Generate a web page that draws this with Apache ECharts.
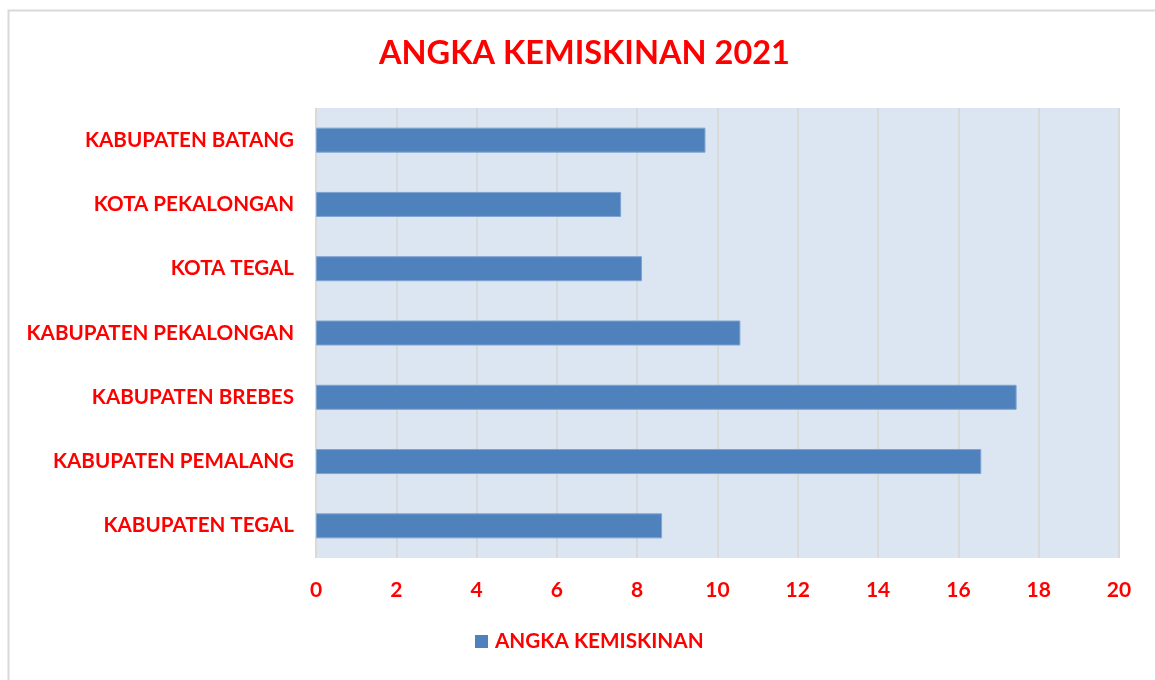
<!DOCTYPE html>
<html>
<head>
<meta charset="utf-8">
<script src="https://cdn.jsdelivr.net/npm/echarts@6/dist/echarts.min.js"></script>
<style>
  html, body { margin: 0; padding: 0; background: #fff; }
  #chart { width: 1155px; height: 680px; }
</style>
</head>
<body>
<div id="chart"></div>
<script>
// data
var daerah = ['KABUPATEN BATANG', 'KOTA PEKALONGAN', 'KOTA TEGAL', 'KABUPATEN PEKALONGAN',
  'KABUPATEN BREBES', 'KABUPATEN PEMALANG', 'KABUPATEN TEGAL'];
var angka = [9.70, 7.60, 8.12, 10.57, 17.45, 16.57, 8.62];
var namaSeri = 'ANGKA KEMISKINAN';

var merah = '#ff0000';
var font = 'Lato';

var myChart = echarts.init(document.getElementById('chart'));

var option = {
  backgroundColor: '#fff',
  animation: false,
  // frame of the chart box (right side is cut off in the original)
  graphic: [{
    type: 'rect',
    shape: { x: 8.5, y: 10.5, width: 1160, height: 680 },
    style: { fill: 'none', stroke: '#d9d9d9', lineWidth: 2 }
  }],
  title: {
    text: 'ANGKA KEMISKINAN 2021',
    left: 374,
    top: 32,
    textStyle: { color: merah, fontFamily: font, fontWeight: 'bold', fontSize: 32.5 }
  },
  legend: {
    data: [{ name: namaSeri, itemStyle: { borderWidth: 0 } }],
    bottom: 23,
    left: 470,
    itemWidth: 13,
    itemHeight: 13,
    icon: 'rect',
    itemGap: 8,
    textStyle: { color: merah, fontFamily: font, fontWeight: 'bold', fontSize: 20.7, padding: [0, 0, 0, 2] }
  },
  grid: {
    left: 316,
    right: 36,
    top: 108,
    bottom: 122,
    show: true,
    backgroundColor: '#dce6f2',
    borderWidth: 0
  },
  xAxis: {
    type: 'value',
    min: 0,
    max: 20,
    interval: 2,
    axisLine: { show: false },
    axisTick: { show: false },
    splitLine: { lineStyle: { color: '#d9d9d9', width: 2 } },
    axisLabel: { color: merah, fontFamily: font, fontWeight: 'bold', fontSize: 21, margin: 22 }
  },
  yAxis: {
    type: 'category',
    inverse: true,
    data: daerah,
    axisLine: { show: false },
    axisTick: { show: false },
    axisLabel: { color: merah, fontFamily: font, fontWeight: 'bold', fontSize: 20.6, margin: 22 }
  },
  series: [{
    name: namaSeri,
    type: 'bar',
    data: angka,
    barWidth: 25,
    itemStyle: { color: '#4f81bd', borderColor: '#7fa3d1', borderWidth: 1 }
  }]
};

myChart.setOption(option);
</script>
</body>
</html>
